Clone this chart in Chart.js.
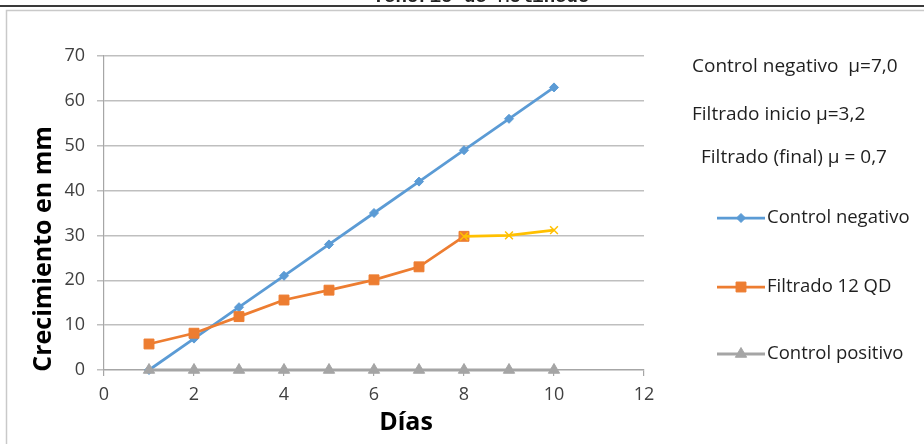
<!DOCTYPE html>
<html>
<head>
<meta charset="utf-8">
<title>Crecimiento en mm</title>
<script src="https://cdn.jsdelivr.net/npm/chart.js@4/dist/chart.umd.min.js"></script>
<style>
  html, body { margin: 0; padding: 0; background: #ffffff; }
  canvas { display: block; }
</style>
</head>
<body>
<canvas id="chart" width="924" height="444"></canvas>
<script>
// Growth (mm) per day for each treatment
const days = [1, 2, 3, 4, 5, 6, 7, 8, 9, 10];
const controlNegativo = [0, 7, 14, 21, 28, 35, 42, 49, 56, 63];
const filtradoDays = [1, 2, 3, 4, 5, 6, 7, 8];
const filtrado12QD = [5.8, 8.2, 11.9, 15.6, 17.8, 20.1, 23.0, 29.8];
const finalDays = [8, 9, 10];
const filtradoFinal = [29.8, 30.0, 31.2];
const controlPositivo = [0, 0, 0, 0, 0, 0, 0, 0, 0, 0];

// Axis ticks
const xTicks = [0, 2, 4, 6, 8, 10, 12];
const yTicks = [0, 10, 20, 30, 40, 50, 60, 70];

// Growth-rate notes shown beside the plot
const notes = ['Control negativo  \u03bc=7,0', 'Filtrado inicio \u03bc=3,2', 'Filtrado (final) \u03bc = 0,7'];
const headerText = 'Tenorio de Molinedo';

const FONT = "'Open Sans', 'DejaVu Sans', sans-serif";

const toPoints = (xs, ys) => xs.map((x, i) => ({ x: x, y: ys[i] }));

const datasets = [
  {
    label: 'Control negativo',
    data: toPoints(days, controlNegativo),
    borderColor: '#5b9bd5', backgroundColor: '#5b9bd5',
    borderWidth: 2.75, pointStyle: 'rectRot', pointRadius: 4.5,
    order: 4, showInLegend: true
  },
  {
    label: 'Filtrado 12 QD',
    data: toPoints(filtradoDays, filtrado12QD),
    borderColor: '#ed7d31', backgroundColor: '#ed7d31',
    borderWidth: 2.75, pointStyle: 'rect', pointRadius: 7,
    order: 3, showInLegend: true
  },
  {
    label: 'Control positivo',
    data: toPoints(days, controlPositivo),
    borderColor: '#a5a5a5', backgroundColor: '#a5a5a5',
    borderWidth: 3, pointStyle: 'triangle', pointRadius: 6.5,
    order: 2, showInLegend: true
  },
  {
    label: 'Filtrado final',
    data: toPoints(finalDays, filtradoFinal),
    borderColor: '#ffc000', backgroundColor: '#ffc000',
    borderWidth: 2.75, pointStyle: 'crossRot', pointRadius: 5.5, pointBorderWidth: 1.5,
    order: 1, showInLegend: false
  }
];

// Page frame: header strip, rule and chart border
const framePlugin = {
  id: 'frame',
  beforeDraw(chart) {
    const ctx = chart.ctx;
    ctx.save();
    ctx.fillStyle = '#ffffff';
    ctx.fillRect(0, 0, chart.width, chart.height);
    ctx.fillStyle = '#222222';
    ctx.font = "bold 19px 'Liberation Mono', monospace";
    ctx.textAlign = 'center';
    ctx.textBaseline = 'alphabetic';
    ctx.fillText(headerText, 481, 2);
    ctx.fillStyle = '#3a3a3a';
    ctx.fillRect(0, 5, chart.width, 2);
    ctx.strokeStyle = '#c9c9c9';
    ctx.lineWidth = 1.5;
    ctx.strokeRect(6.5, 10.5, chart.width + 10, chart.height + 10);
    ctx.restore();
  }
};

// Axis titles, notes and the series key on the right
const sidePlugin = {
  id: 'side',
  afterDraw(chart) {
    const ctx = chart.ctx;
    ctx.save();

    // axis titles
    ctx.fillStyle = '#000000';
    ctx.font = 'bold 25px ' + FONT;
    ctx.textAlign = 'center';
    ctx.textBaseline = 'middle';
    ctx.fillText('D\u00edas', 406, 423);
    ctx.save();
    ctx.translate(44, 249);
    ctx.rotate(-Math.PI / 2);
    ctx.fillText('Crecimiento en mm', 0, 0);
    ctx.restore();

    // notes
    ctx.fillStyle = '#1f1f1f';
    ctx.font = '19px ' + FONT;
    ctx.textAlign = 'left';
    ctx.fillText(notes[0], 692, 67);
    ctx.fillText(notes[1], 692, 115);
    ctx.fillText(notes[2], 701, 158);

    // key
    const keyY = [218, 287, 354];
    let k = 0;
    chart.data.datasets.forEach((ds) => {
      if (!ds.showInLegend) return;
      const y = keyY[k++];
      ctx.strokeStyle = ds.borderColor;
      ctx.lineWidth = ds.borderWidth;
      ctx.beginPath();
      ctx.moveTo(717, y);
      ctx.lineTo(765, y);
      ctx.stroke();
      ctx.fillStyle = ds.backgroundColor;
      ctx.strokeStyle = ds.borderColor;
      ctx.lineWidth = 1;
      Chart.helpers.drawPoint(ctx, {
        pointStyle: ds.pointStyle, radius: ds.pointRadius, rotation: 0, borderWidth: 1
      }, 741, y);
      ctx.fillStyle = '#1f1f1f';
      ctx.font = '18.5px ' + FONT;
      ctx.fillText(ds.label, 767, y);
    });
    ctx.restore();
  }
};

new Chart(document.getElementById('chart'), {
  type: 'scatter',
  data: { datasets: datasets.map(d => Object.assign({ showLine: true, pointBorderWidth: 1, clip: false }, d)) },
  options: {
    responsive: false,
    devicePixelRatio: 1,
    animation: false,
    layout: { padding: { left: 20, right: 280, top: 56, bottom: 0 } },
    plugins: { legend: { display: false }, tooltip: { enabled: false } },
    scales: {
      x: {
        type: 'linear', min: xTicks[0], max: xTicks[xTicks.length - 1],
        afterBuildTicks: (s) => { s.ticks = xTicks.map(v => ({ value: v })); },
        afterFit: (s) => { s.height = 74; },
        ticks: { color: '#404040', font: { family: FONT, size: 18 }, padding: 8 },
        grid: { drawOnChartArea: false, tickLength: 6, color: '#a6a6a6', lineWidth: 1.2 },
        border: { color: '#a6a6a6', width: 1.2 }
      },
      y: {
        type: 'linear', min: yTicks[0], max: yTicks[yTicks.length - 1],
        afterBuildTicks: (s) => { s.ticks = yTicks.map(v => ({ value: v })); },
        afterFit: (s) => { s.width = 84; },
        ticks: { color: '#404040', font: { family: FONT, size: 18 }, padding: 12 },
        grid: { color: '#bfbfbf', lineWidth: 1.5, tickLength: 7 },
        border: { color: '#a6a6a6', width: 1.2 }
      }
    }
  },
  plugins: [framePlugin, sidePlugin]
});
</script>
</body>
</html>
